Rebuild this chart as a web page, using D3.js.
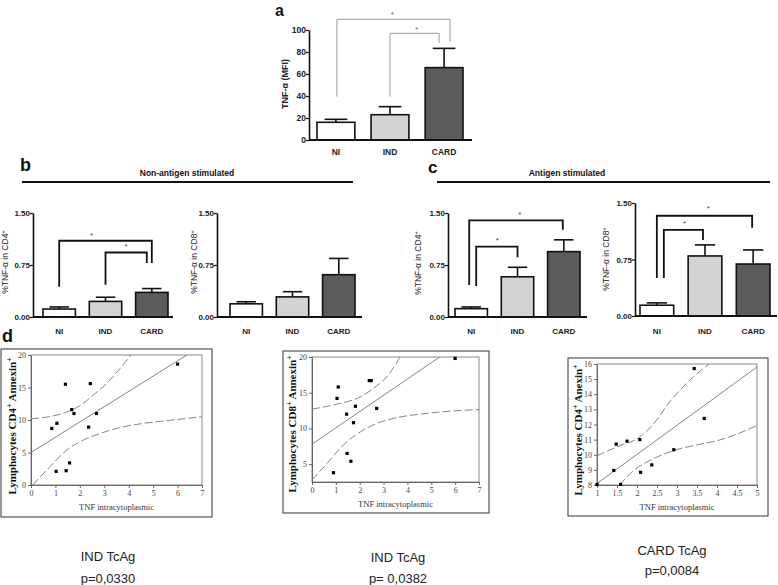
<!DOCTYPE html>
<html><head><meta charset="utf-8">
<script src="https://cdn.jsdelivr.net/npm/d3@7"></script>
<style>body{margin:0;background:#fff}svg{display:block}</style>
</head><body>
<svg id="c" width="778" height="585"></svg>
<script>
// ---------- DATA ----------
const groups = ["NI", "IND", "CARD"];
const groupFills = ["#ffffff", "#d3d3d3", "#5b5b5b"];

const aMean = [16.1, 23, 65.8];
const aErr  = [2.7, 7.3, 17.5];
const aTicks = [0, 20, 40, 60, 80, 100];

const bCD4Mean = [0.115, 0.225, 0.355];
const bCD4Err  = [0.03, 0.06, 0.055];
const bCD8Mean = [0.19, 0.29, 0.61];
const bCD8Err  = [0.03, 0.075, 0.235];
const cCD4Mean = [0.12, 0.58, 0.943];
const cCD4Err  = [0.025, 0.137, 0.17];
const cCD8Mean = [0.143, 0.797, 0.69];
const cCD8Err  = [0.031, 0.147, 0.187];
const pctTicks = [0, 0.75, 1.5];

// significance comparisons: [from, to, level, fromEnd, toEnd]
const aSig   = [["NI","CARD",109.7,39.4,89.4], ["IND","CARD",97,39.4,88]];
const bCD4Sig = [["NI","CARD",1.10,0.437,0.78], ["IND","CARD",0.93,0.466,0.78]];
const cCD4Sig = [["NI","CARD",1.393,0.46,1.258], ["NI","IND",1.016,0.446,0.862]];
const cCD8Sig = [["NI","CARD",1.331,0.503,1.171], ["NI","IND",1.144,0.503,1.01]];

// scatter panel d
const d1X = [0.85,1.06,1.41,1.67,1.76,2.43,2.36,2.68,1.03,1.44,1.58,6.0];
const d1Y = [8.7,9.5,15.5,11.6,11.0,15.6,8.9,11.0,2.1,2.2,3.4,18.6];
const d1Fit = [[0,5],[6.38,20]];
const d1Upper = [[0,10.2],[0.75,10.5],[1.44,11.2],[2.0,12.2],[2.54,13.8],[3.09,15.6],[3.64,17.9],[4.09,20]];
const d1Lower = [[0.07,0],[0.75,2.7],[1.44,5.3],[2.13,6.9],[2.81,7.9],[3.5,8.7],[4.46,9.4],[5.56,9.9],[7,10.5]];
const d1XTicks = [0,1,2,3,4,5,6,7];
const d1YTicks = [0,5,10,15,20];

const d2X = [0.9,1.1,1.05,1.45,1.74,1.82,1.47,1.63,2.4,2.48,2.71,6.0];
const d2Y = [3.8,15.8,14.2,12.0,10.8,13.1,6.5,5.4,16.7,16.7,12.8,19.8];
const d2Fit = [[0,7.8],[5.35,20]];
const d2Upper = [[0,12.7],[1.04,13.4],[2.02,14.4],[2.57,15.6],[3.13,17.2],[3.69,20]];
const d2Lower = [[0,2.8],[0.63,5.1],[1.32,7.7],[2.02,9.5],[2.71,10.7],[3.41,11.4],[4.8,12.1],[7,12.65]];
const d2XTicks = [0,1,2,3,4,5,6,7];
const d2YTicks = [5,10,15,20];

const d3X = [1.0,1.59,1.42,1.48,1.75,2.07,2.09,2.37,2.92,3.43,3.68];
const d3Y = [8.04,8.04,8.96,10.7,10.9,11.0,8.84,9.33,10.33,15.7,12.4];
const d3Fit = [[1,8.1],[5,15.8]];
const d3Upper = [[1,9.93],[1.57,10.6],[2.03,11.1],[2.4,12.0],[2.82,13.5],[3.23,14.7],[3.61,15.6],[3.8,16]];
const d3Lower = [[1.57,8],[1.9,8.93],[2.23,9.5],[2.57,9.93],[2.98,10.33],[3.48,10.64],[4.07,10.98],[5,11.93]];
const d3XTicks = [1,1.5,2,2.5,3,3.5,4,4.5,5];
const d3YTicks = [8,9,10,11,12,13,14,15,16];

// ---------- DRAW ----------
const svg = d3.select("#c");
const SANS = "'Liberation Sans', Arial, sans-serif";
const SERIF = "'Liberation Serif', 'Times New Roman', serif";

function panelLetter(t, x, y, size) {
  svg.append("text").attr("x", x).attr("y", y).text(t)
    .attr("font-family", SANS).attr("font-weight", "bold").attr("font-size", size).attr("fill", "#111");
}

function rotLabel(parts, x, y, opts) {
  const t = svg.append("text").attr("transform", `translate(${x},${y}) rotate(-90)`)
    .attr("text-anchor", "middle").attr("font-family", opts.family)
    .attr("font-size", opts.size).attr("font-weight", opts.weight || "normal").attr("fill", opts.fill || "#111");
  parts.forEach(p => {
    const ts = t.append("tspan").text(p[0]);
    if (p[1] === "sup") ts.attr("baseline-shift", "super").attr("font-size", opts.size * 0.7);
  });
}

function barPanel(cfg) {
  const fs = cfg.fs || 8;
  const x = d3.scaleBand().domain(groups).range([cfg.bx0, cfg.bx1]).paddingInner(0.3).paddingOuter(0);
  const y = d3.scaleLinear().domain([0, cfg.max]).range([cfg.y0, cfg.y1]);
  const g = svg.append("g");
  const bw = x.bandwidth();
  g.selectAll("rect.bar").data(groups).join("rect")
    .attr("x", d => x(d)).attr("y", (d, i) => y(cfg.mean[i]))
    .attr("width", bw).attr("height", (d, i) => y(0) - y(cfg.mean[i]))
    .attr("fill", (d, i) => groupFills[i]).attr("stroke", "#111").attr("stroke-width", 1.6);
  groups.forEach((d, i) => {
    const cx = x(d) + bw / 2;
    g.append("line").attr("x1", cx).attr("x2", cx).attr("y1", y(cfg.mean[i])).attr("y2", y(cfg.mean[i] + cfg.err[i]))
      .attr("stroke", "#111").attr("stroke-width", 1.6);
    g.append("line").attr("x1", cx - bw * 0.3).attr("x2", cx + bw * 0.3)
      .attr("y1", y(cfg.mean[i] + cfg.err[i])).attr("y2", y(cfg.mean[i] + cfg.err[i]))
      .attr("stroke", "#111").attr("stroke-width", 1.6);
  });
  const ya = g.append("g").attr("transform", `translate(${cfg.ax},0)`)
    .call(d3.axisLeft(y).tickValues(cfg.ticks).tickSize(3).tickSizeOuter(0).tickFormat(cfg.fmt));
  ya.select(".domain").attr("stroke", "#111").attr("stroke-width", 1.6);
  ya.selectAll(".tick line").attr("stroke", "#111").attr("stroke-width", 1.2);
  ya.selectAll(".tick text").attr("font-family", SANS).attr("font-weight", "bold")
    .attr("font-size", fs).attr("fill", "#222").attr("x", -3);
  g.append("line").attr("x1", cfg.ax).attr("x2", cfg.ax1).attr("y1", y(0)).attr("y2", y(0))
    .attr("stroke", "#111").attr("stroke-width", 1.8);
  const xa = g.append("g").attr("transform", `translate(0,${y(0)})`)
    .call(d3.axisBottom(x).tickSize(0).tickPadding(cfg.xpad));
  xa.select(".domain").remove();
  xa.selectAll(".tick text").attr("font-family", SANS).attr("font-weight", "bold")
    .attr("font-size", fs).attr("fill", "#222");
  (cfg.sig || []).forEach((s, k) => {
    const off = cfg.sigOff[k];
    const xl = x(s[0]) + bw / 2 + off[0], xr = x(s[1]) + bw / 2 + off[1];
    g.append("path")
      .attr("d", `M${xl},${y(s[3])}V${y(s[2])}H${xr}V${y(s[4])}`)
      .attr("fill", "none").attr("stroke", cfg.sigColor).attr("stroke-width", cfg.sigW);
    g.append("text").attr("x", xl + (xr - xl) * off[2]).attr("y", y(s[2]) + off[3])
      .attr("text-anchor", "middle").attr("font-family", SANS).attr("font-size", 8)
      .attr("fill", cfg.sigColor === "#111" ? "#444" : "#666").text("*");
  });
  rotLabel(cfg.label, cfg.lx, cfg.ly, { family: SANS, size: cfg.lfs || 8.5, weight: cfg.lw, fill: "#222" });
}

// panel a
panelLetter("a", 275, 16, 16);
barPanel({ mean: aMean, err: aErr, max: 100, ticks: aTicks, fmt: d3.format("d"),
  ax: 309, ax1: 472, bx0: 317, bx1: 463, y0: 140, y1: 30, xpad: 9, fs: 8.5,
  sig: aSig, sigOff: [[1, 6, 0.49, -2], [0, -5, 0.54, -1]], sigColor: "#9a9a9a", sigW: 1,
  label: [["TNF-\u03b1 (MFI)"]], lx: 288, ly: 84, lfs: 9, lw: "bold" });

// panel b
panelLetter("b", 20, 171, 18);
svg.append("text").attr("x", 187).attr("y", 176).attr("text-anchor", "middle")
  .attr("font-family", SANS).attr("font-weight", "bold").attr("font-size", 8.5).attr("fill", "#111")
  .text("Non-antigen stimulated");
svg.append("line").attr("x1", 22).attr("x2", 353).attr("y1", 182).attr("y2", 182)
  .attr("stroke", "#111").attr("stroke-width", 1.8);
barPanel({ mean: bCD4Mean, err: bCD4Err, max: 1.5, ticks: pctTicks, fmt: d3.format(".2f"),
  ax: 33, ax1: 173, bx0: 43, bx1: 168, y0: 317, y1: 213, xpad: 11,
  sig: bCD4Sig, sigOff: [[0, 0, 0.35, -3], [0, -5, 0.5, -4]], sigColor: "#111", sigW: 1.8,
  label: [["%TNF-\u03b1 in CD4"], ["+", "sup"]], lx: 8, ly: 262 });
barPanel({ mean: bCD8Mean, err: bCD8Err, max: 1.5, ticks: pctTicks, fmt: d3.format(".2f"),
  ax: 217, ax1: 362, bx0: 230, bx1: 355, y0: 317, y1: 213, xpad: 11,
  label: [["%TNF-\u03b1 in CD8"], ["+", "sup"]], lx: 197, ly: 262 });

// panel c
panelLetter("c", 428, 173, 17);
svg.append("text").attr("x", 567).attr("y", 176).attr("text-anchor", "middle")
  .attr("font-family", SANS).attr("font-weight", "bold").attr("font-size", 8.5).attr("fill", "#111")
  .text("Antigen stimulated");
svg.append("line").attr("x1", 437).attr("x2", 770).attr("y1", 182).attr("y2", 182)
  .attr("stroke", "#111").attr("stroke-width", 1.8);
barPanel({ mean: cCD4Mean, err: cCD4Err, max: 1.5, ticks: pctTicks, fmt: d3.format(".2f"),
  ax: 448, ax1: 587, bx0: 455, bx1: 580, y0: 317, y1: 213, xpad: 11,
  sig: cCD4Sig, sigOff: [[-2, -1, 0.54, -3], [5, 0, 0.51, -4]], sigColor: "#111", sigW: 1.8,
  label: [["%TNF-\u03b1 in CD4"], ["+", "sup"]], lx: 421, ly: 263 });
barPanel({ mean: cCD8Mean, err: cCD8Err, max: 1.5, ticks: pctTicks, fmt: d3.format(".2f"),
  ax: 635, ax1: 777, bx0: 640, bx1: 770, y0: 316, y1: 203, xpad: 12,
  sig: cCD8Sig, sigOff: [[0, -1, 0.54, -5], [7, -2, 0.53, -4]], sigColor: "#111", sigW: 1.8,
  label: [["%TNF-\u03b1 in CD8"], ["+", "sup"]], lx: 609, ly: 259 });

// panel d
panelLetter("d", 2, 342, 18);

function scatter(cfg) {
  const g = svg.append("g");
  g.append("rect").attr("x", cfg.box[0]).attr("y", cfg.box[1])
    .attr("width", cfg.box[2] - cfg.box[0]).attr("height", cfg.box[3] - cfg.box[1])
    .attr("fill", "none").attr("stroke", "#555").attr("stroke-width", 1.2);
  const x = d3.scaleLinear().domain(cfg.xd).range([cfg.px0, cfg.px1]);
  const y = d3.scaleLinear().domain(cfg.yd).range([cfg.py0, cfg.py1]);
  g.append("rect").attr("x", cfg.px0).attr("y", cfg.py1)
    .attr("width", cfg.px1 - cfg.px0).attr("height", cfg.py0 - cfg.py1)
    .attr("fill", "none").attr("stroke", "#8a8a8a").attr("stroke-width", 1);
  const xa = g.append("g").attr("transform", `translate(0,${cfg.py0})`)
    .call(d3.axisBottom(x).tickValues(cfg.xt).tickSize(3).tickSizeOuter(0).tickPadding(2).tickFormat(d3.format("")));
  const ya = g.append("g").attr("transform", `translate(${cfg.px0},0)`)
    .call(d3.axisLeft(y).tickValues(cfg.yt).tickSize(3).tickSizeOuter(0).tickPadding(2).tickFormat(d3.format("")));
  [xa, ya].forEach(a => {
    a.select(".domain").attr("stroke", "#666");
    a.selectAll(".tick line").attr("stroke", "#666");
    a.selectAll(".tick text").attr("font-family", SERIF).attr("font-size", 8).attr("fill", "#444");
  });
  const clipId = "clip" + cfg.id;
  g.append("clipPath").attr("id", clipId).append("rect")
    .attr("x", cfg.px0).attr("y", cfg.py1).attr("width", cfg.px1 - cfg.px0).attr("height", cfg.py0 - cfg.py1);
  const lg = g.append("g").attr("clip-path", `url(#${clipId})`);
  const line = d3.line().x(d => x(d[0])).y(d => y(d[1]));
  const curve = d3.line().x(d => x(d[0])).y(d => y(d[1])).curve(d3.curveMonotoneX);
  lg.append("path").attr("d", line(cfg.fit)).attr("fill", "none").attr("stroke", "#777").attr("stroke-width", 0.9);
  [cfg.upper, cfg.lower].forEach(b => {
    lg.append("path").attr("d", curve(b)).attr("fill", "none").attr("stroke", "#777")
      .attr("stroke-width", 0.9).attr("stroke-dasharray", "8,3");
  });
  g.selectAll("rect.pt").data(cfg.xs).join("rect").attr("class", "pt")
    .attr("x", (d, i) => x(d) - 1.6).attr("y", (d, i) => y(cfg.ys[i]) - 1.6)
    .attr("width", 3.2).attr("height", 3.2).attr("fill", "#000");
  g.append("text").attr("x", (cfg.px0 + cfg.px1) / 2).attr("y", cfg.py0 + 25).attr("text-anchor", "middle")
    .attr("font-family", SERIF).attr("font-size", 8.5).attr("fill", "#333").text("TNF intracytoplasmic");
  rotLabel(cfg.ylab, cfg.lx, cfg.ly, { family: SERIF, size: 11, weight: "bold", fill: "#111" });
  g.append("text").attr("x", cfg.cx).attr("y", cfg.cy1).attr("text-anchor", "middle")
    .attr("font-family", SANS).attr("font-size", 13).attr("fill", "#222").text(cfg.cap1);
  g.append("text").attr("x", cfg.cx).attr("y", cfg.cy2).attr("text-anchor", "middle")
    .attr("font-family", SANS).attr("font-size", 13).attr("fill", "#222").text(cfg.cap2);
}

scatter({ id: 1, box: [1, 349, 212, 517], xd: [0, 7], yd: [0, 20], px0: 31, px1: 202, py0: 485, py1: 355,
  xt: d1XTicks, yt: d1YTicks, xs: d1X, ys: d1Y, fit: d1Fit, upper: d1Upper, lower: d1Lower,
  ylab: [["Lymphocytes CD4"], ["+", "sup"], [" Annexin"], ["+", "sup"]], lx: 16, ly: 426,
  cx: 108, cy1: 561, cy2: 583, cap1: "IND TcAg", cap2: "p=0,0330" });
scatter({ id: 2, box: [283, 351, 489, 513], xd: [0, 7], yd: [2.5, 20], px0: 312, px1: 479, py0: 482, py1: 357,
  xt: d2XTicks, yt: d2YTicks, xs: d2X, ys: d2Y, fit: d2Fit, upper: d2Upper, lower: d2Lower,
  ylab: [["Lymphocytes CD8"], ["+", "sup"], [" Annexin"], ["+", "sup"]], lx: 296, ly: 424,
  cx: 398, cy1: 562, cy2: 583, cap1: "IND TcAg", cap2: "p= 0,0382" });
scatter({ id: 3, box: [568, 358, 768, 516], xd: [1, 5], yd: [8, 16], px0: 597, px1: 757, py0: 485, py1: 364,
  xt: d3XTicks, yt: d3YTicks, xs: d3X, ys: d3Y, fit: d3Fit, upper: d3Upper, lower: d3Lower,
  ylab: [["Lymphocytes CD4"], ["+", "sup"], [" Anexin"], ["+", "sup"]], lx: 582, ly: 430,
  cx: 672, cy1: 555, cy2: 575, cap1: "CARD TcAg", cap2: "p=0,0084" });
</script>
</body></html>
